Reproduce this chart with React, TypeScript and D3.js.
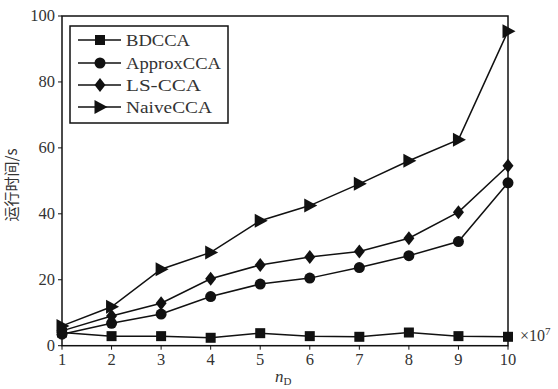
import React from "react";
import * as d3 from "d3";

const xValues = [1, 2, 3, 4, 5, 6, 7, 8, 9, 10];
const bdcca = [4.0, 2.9, 2.9, 2.4, 3.8, 2.9, 2.7, 4.0, 2.9, 2.7];
const approxcca = [3.5, 6.8, 9.6, 14.9, 18.7, 20.5, 23.7, 27.3, 31.6, 49.4];
const lscca = [4.5, 9.0, 12.9, 20.3, 24.5, 26.9, 28.6, 32.6, 40.5, 54.6];
const naivecca = [6.0, 11.8, 23.2, 28.3, 37.9, 42.5, 49.1, 56.1, 62.5, 95.4];
const yTicks = [0, 20, 40, 60, 80, 100];
const seriesNames = ["BDCCA", "ApproxCCA", "LS-CCA", "NaiveCCA"];
const seriesMarkers = ["square", "circle", "diamond", "triangle"];
const seriesData = [bdcca, approxcca, lscca, naivecca];

const W = 558, H = 389;
const L = 62, R = 508, T = 16, B = 345.7;
const FONT = "'Liberation Serif', 'DejaVu Serif', serif";

function Marker({ type, x, y }: { type: string; x: number; y: number }) {
  if (type === "square") return <rect x={x - 5} y={y - 5} width={10} height={10} fill="#111" />;
  if (type === "circle") return <circle cx={x} cy={y} r={5.5} fill="#111" />;
  if (type === "diamond") return <path d={`M${x},${y - 7}L${x + 5.5},${y}L${x},${y + 7}L${x - 5.5},${y}Z`} fill="#111" />;
  return <path d={`M${x - 5.5},${y - 7}L${x + 7.5},${y}L${x - 5.5},${y + 7}Z`} fill="#111" />;
}

export default function App() {
  const x = d3.scaleLinear().domain([1, 10]).range([L, R]);
  const y = d3.scaleLinear().domain([0, 100]).range([B, T]);
  const line = d3.line<number>().x((_, i) => x(xValues[i])).y((d) => y(d));
  const legY = [40, 63, 85, 107];
  return (
    <svg width={W} height={H} style={{ position: "absolute", left: 0, top: 0, background: "#fff" }}>
      <rect x={0} y={0} width={W} height={H} fill="#fff" />
      <rect x={L} y={T} width={R - L} height={B - T} fill="none" stroke="#111" strokeWidth={1.5} />
      {yTicks.map((t) => (
        <g key={t}>
          <line x1={L - 4} x2={L} y1={y(t)} y2={y(t)} stroke="#111" strokeWidth={1} />
          <text x={L - 7} y={y(t) + 5} textAnchor="end" fontFamily={FONT} fontSize={16.5} fill="#333">{t}</text>
        </g>
      ))}
      {xValues.map((t) => (
        <g key={t}>
          <line x1={x(t)} x2={x(t)} y1={B} y2={B + 4} stroke="#111" strokeWidth={1} />
          <text x={x(t)} y={B + 19} textAnchor="middle" fontFamily={FONT} fontSize={16.5} fill="#333">{t}</text>
        </g>
      ))}
      {seriesData.map((s, si) => (
        <g key={si}>
          <path d={line(s) || ""} fill="none" stroke="#111" strokeWidth={1.5} />
          {s.map((v, i) => <Marker key={i} type={seriesMarkers[si]} x={x(xValues[i])} y={y(v)} />)}
        </g>
      ))}
      <rect x={70} y={26} width={158} height={97} fill="#fff" stroke="#111" strokeWidth={1.5} />
      {seriesNames.map((n, i) => (
        <g key={n}>
          <line x1={78} x2={121} y1={legY[i]} y2={legY[i]} stroke="#111" strokeWidth={1.5} />
          <Marker type={seriesMarkers[i]} x={100} y={legY[i]} />
          <text x={126} y={legY[i] + 6} fontFamily={FONT} fontSize={17.5} fill="#333" textLength={[64, 95, 75, 86][i]} lengthAdjust="spacingAndGlyphs">{n}</text>
        </g>
      ))}
      <text transform={`translate(17,185) rotate(-90)`} textAnchor="middle" fontFamily="'Noto Sans CJK SC', sans-serif" fontSize={15} fill="#333">运行时间/s</text>
      <text x={275} y={382} fontFamily={FONT} fontStyle="italic" fontSize={17} fill="#333">n<tspan fontSize={11} dy={3} fontStyle="normal">D</tspan></text>
      <text x={520} y={341} fontFamily={FONT} fontSize={16} fill="#333">×10<tspan fontSize={11} dy={-6}>7</tspan></text>
    </svg>
  );
}
